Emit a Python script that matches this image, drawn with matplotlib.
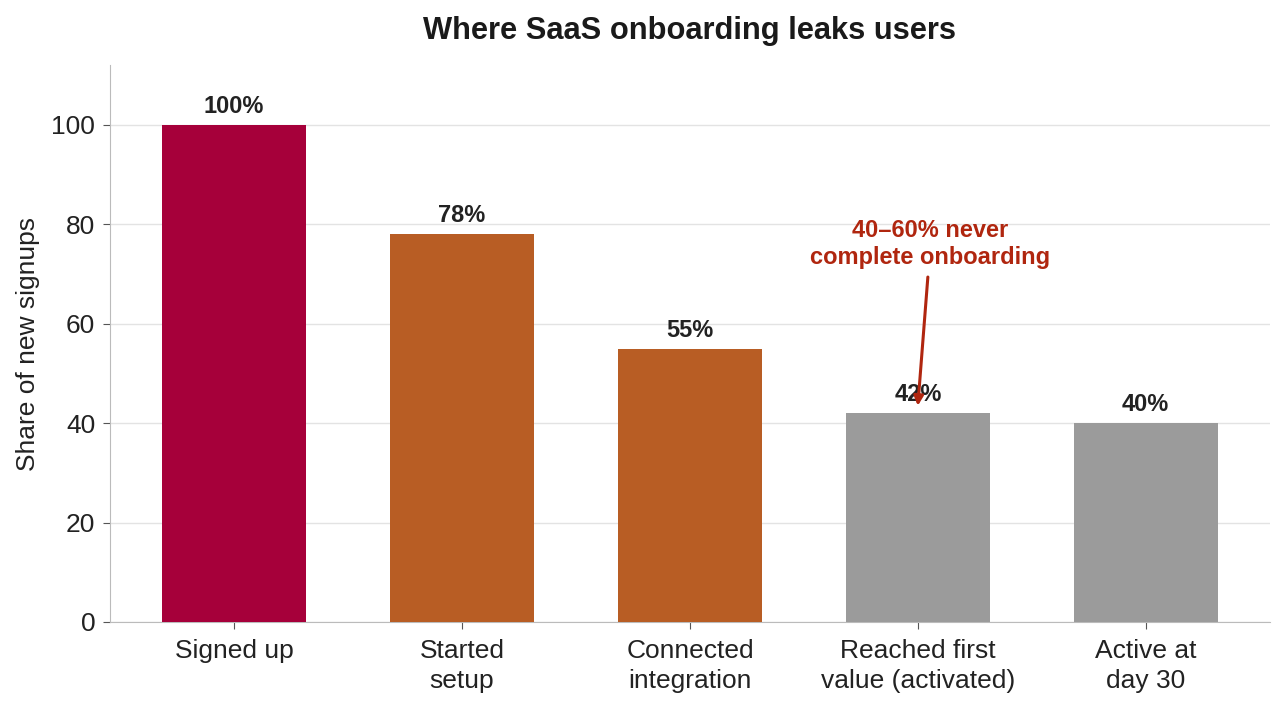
import matplotlib
matplotlib.use("Agg")
import matplotlib.pyplot as plt

categories = ["Signed up", "Started\nsetup", "Connected\nintegration", "Reached first\nvalue (activated)", "Active at\nday 30"]
values = [100, 78, 55, 42, 40]
colors = ["#A6003A", "#B85D24", "#B85D24", "#9B9B9B", "#9B9B9B"]
labels = ["100%", "78%", "55%", "42%", "40%"]

plt.rcParams['font.family'] = ['Liberation Sans', 'DejaVu Sans']

fig = plt.figure(figsize=(12.86, 7.10), dpi=100)
ax = fig.add_axes([0.0855, 0.124, 0.902, 0.784])

x = list(range(len(categories)))
bars = ax.bar(x, values, width=0.63, color=colors, zorder=3)
for xi, v, lab in zip(x, values, labels):
    ax.annotate(lab, (xi, v), xytext=(0, 5), textcoords="offset points",
                ha="center", va="bottom", fontsize=17, fontweight="bold", color="#222222", zorder=5)

ax.set_xlim(-0.545, 4.545)
ax.set_ylim(0, 112)
ax.set_yticks([0, 20, 40, 60, 80, 100])
ax.set_xticks(x)
ax.set_xticklabels(categories, fontsize=19, color="#222222", linespacing=1.35)
ax.tick_params(axis="y", labelsize=19, labelcolor="#222222", color="#555555", length=5, pad=5.5)
ax.tick_params(axis="x", color="#555555", length=5, pad=7)
ax.set_ylabel("Share of new signups", fontsize=19, color="#222222", labelpad=8)
ax.grid(axis="y", color="#E3E3E3", linewidth=1, zorder=0)
for s in ["top", "right"]:
    ax.spines[s].set_visible(False)
for s in ["left", "bottom"]:
    ax.spines[s].set_color("#BBBBBB")

ann_color = "#B0260F"
ax.text(3.052, 76.0, "40–60% never\ncomplete onboarding", ha="center", va="center",
        fontsize=17, fontweight="bold", color=ann_color, linespacing=1.25, zorder=6)
ax.annotate("", xy=(3.0, 43.5), xytext=(3.044, 69.4),
            arrowprops=dict(arrowstyle="-|>", color=ann_color, lw=2.2, mutation_scale=14,
                            shrinkA=0, shrinkB=0), zorder=6)

ax.set_title("Where SaaS onboarding leaks users", fontsize=22.2, fontweight="bold", color="#1a1a1a", pad=19)

fig.savefig("out.png", dpi=100)
